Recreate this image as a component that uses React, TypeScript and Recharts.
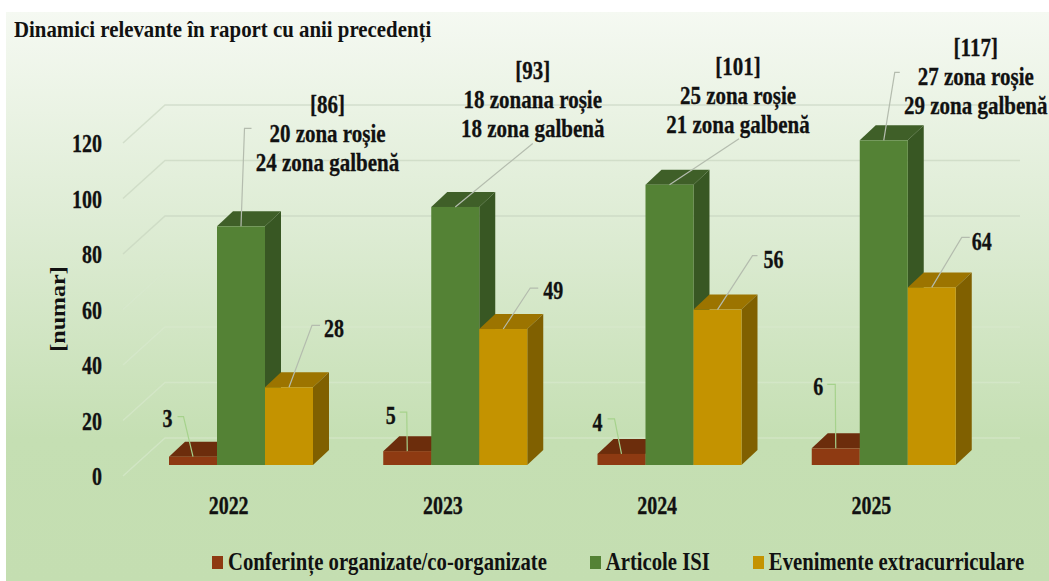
import { BarChart, Bar, XAxis, YAxis, CartesianGrid, Legend, LabelList } from "recharts";

const YEARS = ["2022", "2023", "2024", "2025"];
const CONFERENCES = [3, 5, 4, 6];
const ARTICLES = [86, 93, 101, 117];
const EVENTS = [28, 49, 56, 64];
const Y_TICKS = [0, 20, 40, 60, 80, 100, 120];
const ARTICLE_NOTES = [
  ["[86]", "20 zona roșie", "24 zona galbenă"],
  ["[93]", "18 zonana roșie", "18 zona galbenă"],
  ["[101]", "25 zona roșie", "21 zona galbenă"],
  ["[117]", "27 zona roșie", "29 zona galbenă"],
];

const rows = YEARS.map((year, i) => ({
  year,
  conf: CONFERENCES[i],
  articles: ARTICLES[i],
  events: EVENTS[i],
}));

// leader lines, relative to the top centre of each bar: elbow, end, label
const CONF_LEADERS = [
  [-9.5, -40, -15.5, -40, -25.5, -39],
  [-0.5, -39, -7.5, -39, -16.5, -36],
  [-7, -35, -14, -35, -24, -32],
  [-0.5, -64, -8.5, -64, -17.5, -62],
];
const ARTICLE_LEADERS = [
  [3.5, -98, 10.5, -98, 86.5, -122],
  [77.5, -63.5, 77.5, -63.5, 77.5, -136.5],
  [69.5, -46, 69.5, -46, 68.5, -119],
  [11, -68, 16, -68, 92, -93],
];
const EVENT_LEADERS = [
  [23, -62, 31, -62, 45, -59],
  [27, -41, 35, -41, 50, -39],
  [35, -54, 40, -54, 56, -51],
  [30, -50, 38, -50, 50, -47],
];

const FONT = "'Liberation Serif', serif";
const DEPTH_X = 16;
const DEPTH_Y = 15;

function Tall({ x, y, children, anchor = "middle", size = 20, sy = 1.3 }: any) {
  return (
    <text
      transform={`translate(${x},${y}) scale(1,${sy})`}
      textAnchor={anchor}
      dy="0.35em"
      fontFamily={FONT}
      fontWeight="bold"
      fontSize={size}
      fill="#111"
      stroke="#111"
      strokeWidth={0.25}
    >
      {children}
    </text>
  );
}

function bar3d(front: string, top: string, side: string) {
  return (props: any) => {
    const { x, y, width: w, height: h } = props;
    return (
      <g>
        <polygon
          points={`${x},${y} ${x + DEPTH_X},${y - DEPTH_Y} ${x + w + DEPTH_X},${y - DEPTH_Y} ${x + w},${y}`}
          fill={top}
        />
        <polygon
          points={`${x + w},${y} ${x + w + DEPTH_X},${y - DEPTH_Y} ${x + w + DEPTH_X},${y + h - DEPTH_Y} ${x + w},${y + h}`}
          fill={side}
        />
        <rect x={x} y={y} width={w} height={h} fill={front} />
      </g>
    );
  };
}

function leaderLabel(leaders: number[][], stroke: string, notes?: string[][]) {
  return (props: any) => {
    const { index, value } = props;
    const box = props.viewBox ?? props;
    const cx = box.x + box.width / 2;
    const top = box.y;
    const [ex, ey, ax, ay, lx, ly] = leaders[index];
    const note = notes ? notes[index] : null;
    return (
      <g>
        <polyline
          points={`${cx},${top} ${cx + ex},${top + ey} ${cx + ax},${top + ay}`}
          fill="none"
          stroke={stroke}
          strokeWidth={1.2}
        />
        {note ? (
          note.map((line, k) => (
            <Tall key={k} x={cx + lx} y={top + ly + k * 29} size={21} sy={1.2}>
              {line}
            </Tall>
          ))
        ) : (
          <Tall x={cx + lx} y={top + ly}>
            {value}
          </Tall>
        )}
      </g>
    );
  };
}

function GridLine(props: any) {
  const { x1, y1, x2 } = props;
  return (
    <polyline
      points={`${x1 - 11},${y1 + 11} ${x1 + 31},${y1 - 27} ${x2 + 29},${y1 - 27}`}
      fill="none"
      stroke={y1 < 250 ? "rgba(196,210,188,0.6)" : "rgba(216,233,206,0.6)"}
      strokeWidth={1.5}
    />
  );
}

function LegendRow({ payload }: any) {
  const gaps = [0, 43, 43];
  return (
    <div style={{ display: "flex", alignItems: "center", whiteSpace: "nowrap" }}>
      {(payload ?? []).map((item: any, i: number) => (
        <div key={item.value} style={{ display: "flex", alignItems: "center", marginLeft: gaps[i] }}>
          <span style={{ width: 11, height: 13, background: item.color, marginRight: 5 }} />
          <span
            style={{
              fontFamily: FONT,
              fontWeight: "bold",
              fontSize: 20.7,
              color: "#111",
              display: "inline-block",
              transform: "scale(1,1.2)",
            }}
          >
            {item.value}
          </span>
        </div>
      ))}
    </div>
  );
}

export default function App() {
  return (
    <div style={{ position: "absolute", left: 0, top: 0, width: 1049, height: 581, overflow: "hidden", background: "#fff" }}>
      <div
        style={{
          position: "absolute",
          left: 6,
          top: 12,
          width: 1043,
          height: 569,
          background: "linear-gradient(#f5f9f2 0%, #dcebd2 40%, #c5dfb3 75%, #c4deb1 100%)",
        }}
      />
      <div
        style={{
          position: "absolute",
          left: 14,
          top: 17,
          fontFamily: FONT,
          fontWeight: "bold",
          fontSize: 20.85,
          lineHeight: "24px",
          color: "#111",
          whiteSpace: "nowrap",
          transform: "scale(1,1.1)",
        }}
      >
        Dinamici relevante în raport cu anii precedenți
      </div>
      <div style={{ position: "absolute", left: 0, top: 0 }}>
        <BarChart
          width={1049}
          height={581}
          data={rows}
          barSize={48}
          barGap={0}
          margin={{ top: 132, right: 58, bottom: 76, left: 34 }}
        >
          <CartesianGrid vertical={false} horizontal={(p: any) => <GridLine key={p.index} {...p} />} />
          <XAxis
            dataKey="year"
            height={40}
            axisLine={false}
            tickLine={false}
            tickSize={0}
            tickMargin={0}
            tick={({ x, y, payload }: any) => (
              <Tall x={x - 12.5} y={y + 40}>
                {payload.value}
              </Tall>
            )}
          />
          <YAxis
            width={100}
            domain={[0, 120]}
            ticks={Y_TICKS}
            axisLine={false}
            tickLine={false}
            tickSize={0}
            tickMargin={31}
            tick={({ x, y, payload }: any) => (
              <Tall x={x - 1} y={y + 11} anchor="end">
                {payload.value}
              </Tall>
            )}
            label={{
              content: () => (
                <text
                  transform="translate(58,309) rotate(-90) scale(1.2,1)"
                  textAnchor="middle"
                  dy="0.35em"
                  fontFamily={FONT}
                  fontWeight="bold"
                  fontSize={20}
                  fill="#111"
                >
                  [numar]
                </text>
              ),
            }}
          />
          <Legend
            verticalAlign="middle"
            layout="horizontal"
            itemSorter={null}
            wrapperStyle={{ left: 212, top: 551, width: "auto" }}
            content={<LegendRow />}
          />
          <Bar
            dataKey="conf"
            name="Conferințe organizate/co-organizate"
            fill="#8e3a12"
            isAnimationActive={false}
            shape={bar3d("#8e3a12", "#6c2d0c", "#6c2d0c")}
          >
            <LabelList dataKey="conf" content={leaderLabel(CONF_LEADERS, "#a6d28c")} />
          </Bar>
          <Bar
            dataKey="articles"
            name="Articole ISI"
            fill="#548235"
            isAnimationActive={false}
            shape={bar3d("#548235", "#3f5f28", "#385723")}
          >
            <LabelList dataKey="articles" content={leaderLabel(ARTICLE_LEADERS, "#b4bcae", ARTICLE_NOTES)} />
          </Bar>
          <Bar
            dataKey="events"
            name="Evenimente extracurriculare"
            fill="#c49300"
            isAnimationActive={false}
            shape={bar3d("#c49300", "#9c7400", "#806000")}
          >
            <LabelList dataKey="events" content={leaderLabel(EVENT_LEADERS, "#b4bcae")} />
          </Bar>
        </BarChart>
      </div>
    </div>
  );
}
